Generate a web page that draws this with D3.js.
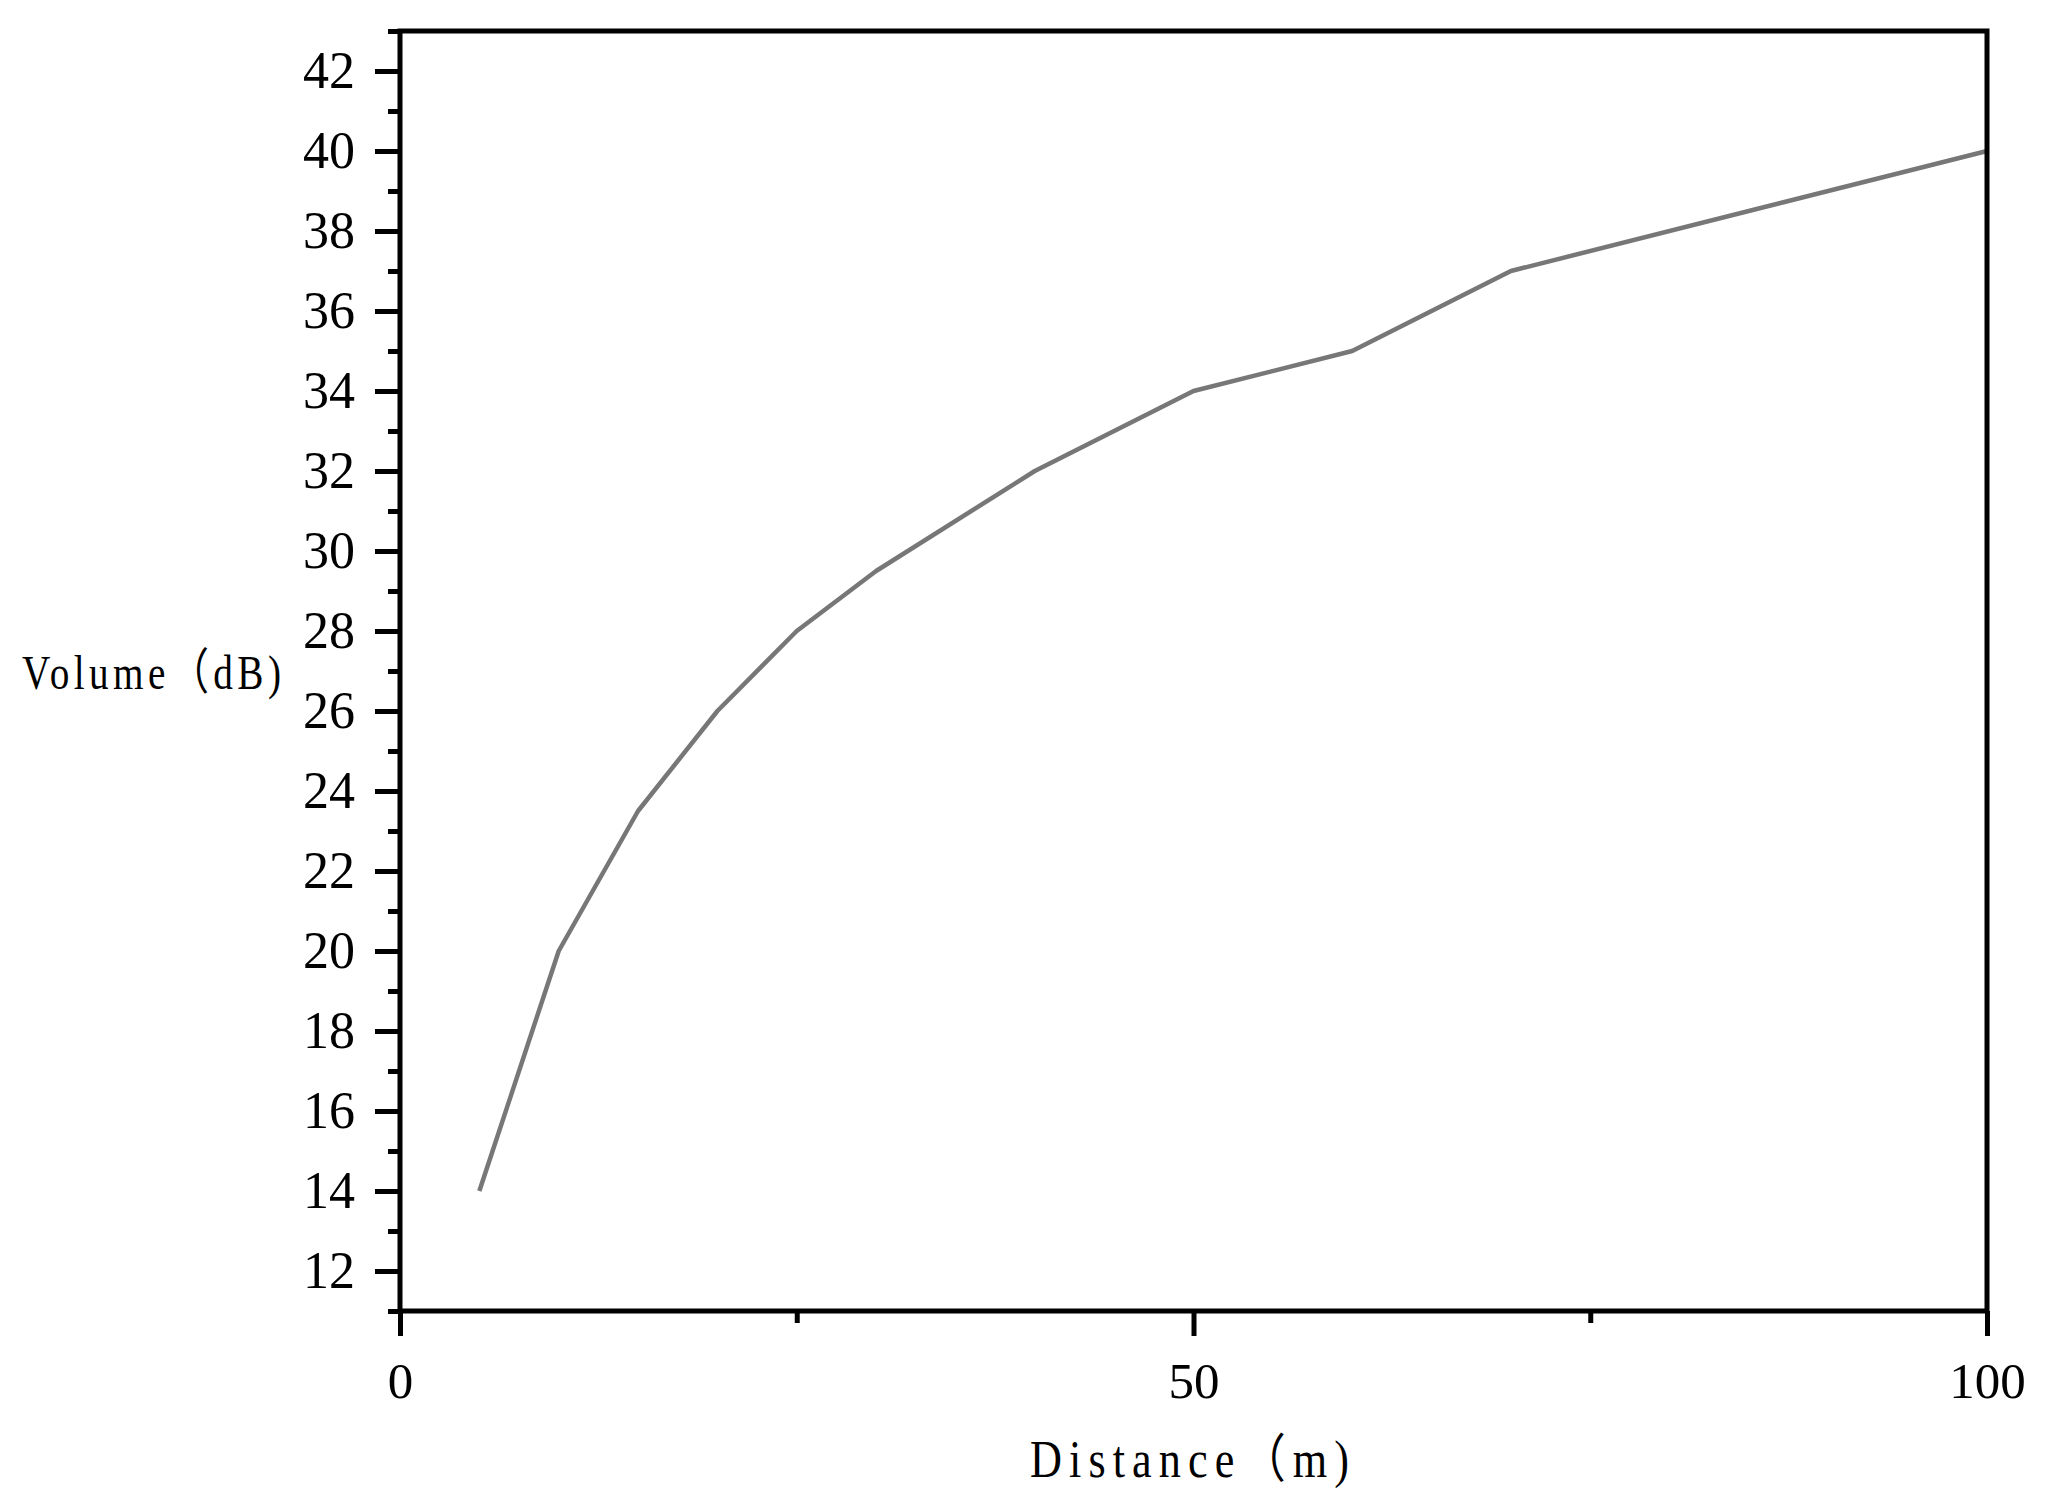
<!DOCTYPE html>
<html><head><meta charset="utf-8">
<script src="https://cdn.jsdelivr.net/npm/d3@7"></script>
<style>html,body{margin:0;padding:0;background:#fff;}</style>
</head><body>
<svg id="chart" width="2048" height="1500"></svg>
<script>
const distance = [5, 10, 15, 20, 25, 30, 40, 50, 60, 70, 100];
const volume = [14, 20, 23.5, 26, 28, 29.5, 32, 34, 35, 37, 40];
const yMajorTicks = [12, 14, 16, 18, 20, 22, 24, 26, 28, 30, 32, 34, 36, 38, 40, 42];
const yMinorTicks = [11, 13, 15, 17, 19, 21, 23, 25, 27, 29, 31, 33, 35, 37, 39, 41, 43];
const xMajorTicks = [0, 50, 100];
const xMinorTicks = [25, 75];
const xTitle = "Distance\uFF08m)";
const yTitle = "Volume\uFF08dB)";

const svg = d3.select("#chart");
const L = 400, R = 1987, T = 31, B = 1311;
const x = d3.scaleLinear().domain([0, 100]).range([L, R]);
const y = d3.scaleLinear().domain([11, 43]).range([B, T]);
const tickFont = "'Liberation Serif','Times New Roman',serif";
const titleFont = "'Liberation Serif','Noto Sans CJK SC',serif";

// line
const line = d3.line().x((d, i) => x(distance[i])).y(d => y(d));
svg.append("path").datum(volume).attr("d", line)
  .attr("fill", "none").attr("stroke", "#777777").attr("stroke-width", 4.5)
  .attr("stroke-linejoin", "round");

// frame
svg.append("rect").attr("x", L).attr("y", T).attr("width", R - L).attr("height", B - T)
  .attr("fill", "none").attr("stroke", "#000").attr("stroke-width", 5);

// y axis
const yAx = svg.append("g").attr("transform", `translate(${L},0)`);
yAx.call(d3.axisLeft(y).tickValues(yMajorTicks).tickSize(25).tickPadding(20).tickFormat(d3.format("d")));
yAx.append("g").call(d3.axisLeft(y).tickValues(yMinorTicks).tickSize(12).tickFormat(""));
yAx.selectAll(".domain").remove();
yAx.selectAll("line").attr("stroke", "#000").attr("stroke-width", 5);
yAx.selectAll("text").attr("font-family", tickFont).attr("font-size", 52).attr("fill", "#000");

// x axis
const xAx = svg.append("g").attr("transform", `translate(0,${B})`);
xAx.call(d3.axisBottom(x).tickValues(xMajorTicks).tickSize(25).tickPadding(26).tickFormat(d3.format("d")));
xAx.append("g").call(d3.axisBottom(x).tickValues(xMinorTicks).tickSize(12).tickFormat(""));
xAx.selectAll(".domain").remove();
xAx.selectAll("line").attr("stroke", "#000").attr("stroke-width", 5);
xAx.selectAll("text").attr("font-family", tickFont).attr("font-size", 51).attr("fill", "#000");

// titles: condensed glyphs spread evenly over the measured span
function title(str, x0, width, baseline, sx, size) {
  svg.append("text")
    .attr("transform", `translate(${x0},${baseline}) scale(${sx},1)`)
    .attr("x", 0).attr("y", 0)
    .attr("font-family", titleFont).attr("font-size", size).attr("fill", "#000")
    .attr("textLength", width / sx).attr("lengthAdjust", "spacing")
    .text(str);
}
title(xTitle, 1030, 319, 1477, 0.85, 52);
title(yTitle, 22, 259, 689, 0.8, 49);
</script>
</body></html>
